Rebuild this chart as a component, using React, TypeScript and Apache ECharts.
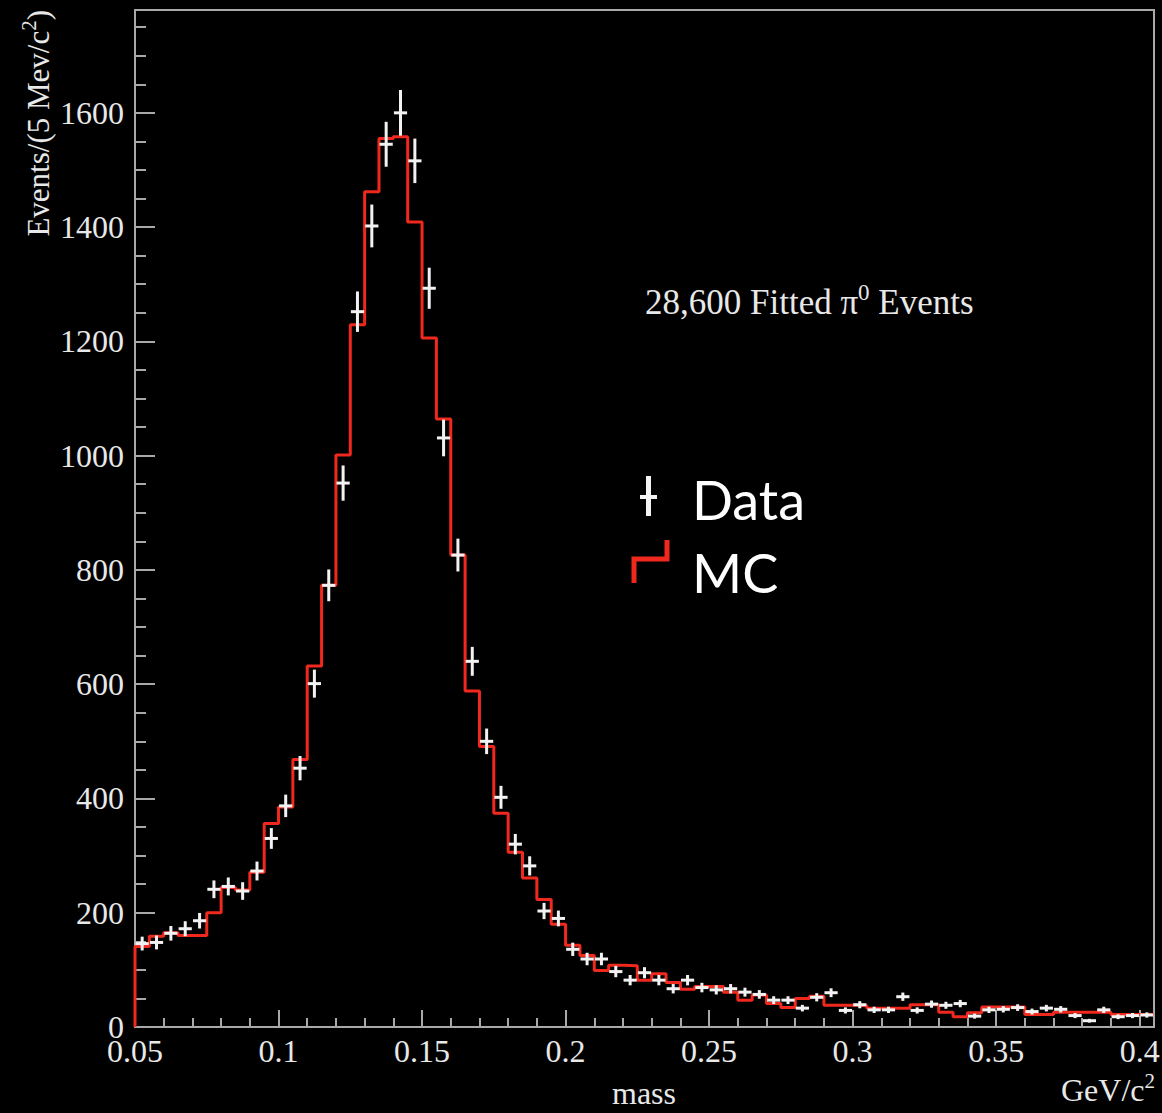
import React, { useEffect, useRef } from "react";
import * as echarts from "echarts";

// Histogram binning (GeV/c^2)
const binStart = 0.05;
const binWidth = 0.005;

// Data: events per 5 MeV/c^2 bin
const dataCounts = [
  146, 148, 164, 172, 186, 241, 246, 238, 273, 330,
  387, 453, 601, 773, 952, 1252, 1402, 1545, 1600, 1516,
  1293, 1031, 826, 640, 500, 402, 320, 282, 203, 190,
  136, 119, 119, 97, 82, 95, 82, 67, 82, 69,
  65, 67, 61, 57, 47, 47, 33, 52, 60, 29,
  39, 30, 30, 53, 29, 40, 38, 41, 19, 30,
  31, 34, 27, 33, 31, 20, 11, 30, 18, 20,
  21,
];

// MC histogram
const mcCounts = [
  141, 159, 165, 160, 160, 200, 244, 240, 271, 356,
  385, 468, 632, 773, 1001, 1229, 1462, 1555, 1558, 1409,
  1206, 1064, 826, 588, 491, 374, 306, 261, 223, 180,
  143, 125, 99, 108, 107, 82, 93, 78, 66, 71,
  71, 61, 47, 56, 41, 34, 50, 54, 38, 38,
  37, 33, 33, 33, 39, 39, 26, 18, 25, 35,
  35, 35, 22, 22, 26, 26, 26, 26, 22, 22,
  22,
];

const xMin = 0.05;
const xMax = 0.405;
const xInterval = 0.05;
const yMin = 0;
const yMax = 1780;
const yInterval = 200;

export default function App() {
  const ref = useRef<HTMLDivElement>(null);

  useEffect(() => {
    if (!ref.current) return;
    const chart = echarts.init(ref.current, null, { renderer: "svg" });
    const serif = '"Liberation Serif", "Times New Roman", serif';
    const sans = 'Lato, "Noto Sans", sans-serif';
    const axisColor = "#a8a8a8";
    const textColor = "#e8e8e8";

    const crossData = dataCounts.map((v, i) => [
      binStart + (i + 0.5) * binWidth,
      v,
      Math.sqrt(v),
    ]);
    const stepData: number[][] = [[binStart, 0]];
    mcCounts.forEach((v, i) => stepData.push([binStart + i * binWidth, v]));
    stepData.push([binStart + mcCounts.length * binWidth, mcCounts[mcCounts.length - 1]]);

    const fmt = (v: number) => String(+Number(v).toFixed(3));

    chart.setOption({
      animation: false,
      backgroundColor: "#000",
      grid: {
        left: 135,
        right: 8,
        top: 10,
        bottom: 86,
        show: true,
        borderColor: axisColor,
        borderWidth: 2,
        containLabel: false,
        outerBoundsMode: "none",
      },
      xAxis: {
        type: "value",
        min: xMin,
        max: xMax,
        interval: xInterval,
        axisLine: { show: true, lineStyle: { color: axisColor, width: 2 } },
        axisTick: { show: true, inside: true, length: 17, lineStyle: { color: axisColor, width: 2 } },
        minorTick: { show: true, splitNumber: 5, length: 9, lineStyle: { color: axisColor, width: 2 } },
        splitLine: { show: false },
        minorSplitLine: { show: false },
        axisLabel: {
          color: textColor,
          fontFamily: serif,
          fontSize: 32,
          lineHeight: 24,
          margin: 12,
          showMaxLabel: false,
          formatter: (v: number) => fmt(v),
        },
      },
      yAxis: {
        type: "value",
        min: yMin,
        max: yMax,
        interval: yInterval,
        axisLine: { show: true, lineStyle: { color: axisColor, width: 2 } },
        axisTick: { show: true, inside: true, length: 20, lineStyle: { color: axisColor, width: 2 } },
        minorTick: { show: true, splitNumber: 4, length: 11, lineStyle: { color: axisColor, width: 2 } },
        splitLine: { show: false },
        minorSplitLine: { show: false },
        axisLabel: {
          color: textColor,
          fontFamily: serif,
          fontSize: 32,
          lineHeight: 22,
          margin: 11,
          showMaxLabel: false,
          formatter: (v: number) => String(Math.round(v)),
        },
      },
      series: [
        {
          name: "MC",
          type: "line",
          step: "end",
          data: stepData,
          symbol: "none",
          showSymbol: false,
          lineStyle: { color: "#f0281e", width: 3 },
          z: 3,
          clip: true,
        },
        {
          name: "Data",
          type: "custom",
          data: crossData,
          encode: { x: 0, y: 1 },
          z: 4,
          renderItem: (params: any, api: any) => {
            const x = api.value(0);
            const y = api.value(1);
            const e = api.value(2);
            const half = binWidth * 0.46;
            const pL = api.coord([x - half, y]);
            const pR = api.coord([x + half, y]);
            const pT = api.coord([x, y + e]);
            const pB = api.coord([x, Math.max(0, y - e)]);
            const style = { stroke: "#f2f2f2", lineWidth: 3 };
            return {
              type: "group",
              children: [
                { type: "line", shape: { x1: pL[0], y1: pL[1], x2: pR[0], y2: pR[1] }, style },
                { type: "line", shape: { x1: pT[0], y1: pT[1], x2: pB[0], y2: pB[1] }, style },
              ],
            };
          },
        },
      ],
      graphic: [
        {
          type: "text",
          x: 38,
          y: 10,
          rotation: Math.PI / 2,
          style: {
            text: "{a|Events/(5 Mev/c}{s|2}{a|)}",
            align: "right",
            verticalAlign: "middle",
            rich: {
              a: { fontFamily: serif, fontSize: 31, fill: textColor, lineHeight: 40 },
              s: { fontFamily: serif, fontSize: 21, fill: textColor, lineHeight: 21, verticalAlign: "top" },
            },
          },
        },
        {
          type: "text",
          x: 644,
          y: 1093,
          style: {
            text: "mass",
            fontFamily: serif,
            fontSize: 32,
            fill: textColor,
            align: "center",
            verticalAlign: "middle",
          },
        },
        {
          type: "text",
          x: 1155,
          y: 1090,
          style: {
            text: "{a|GeV/c}{s|2}",
            align: "right",
            verticalAlign: "middle",
            rich: {
              a: { fontFamily: serif, fontSize: 32, fill: textColor, lineHeight: 40 },
              s: { fontFamily: serif, fontSize: 21, fill: textColor, lineHeight: 21, verticalAlign: "top" },
            },
          },
        },
        {
          type: "text",
          x: 645,
          y: 302,
          style: {
            text: "{a|28,600 Fitted π}{s|0}{a| Events}",
            align: "left",
            verticalAlign: "middle",
            rich: {
              a: { fontFamily: serif, fontSize: 35, fill: textColor, lineHeight: 42 },
              s: { fontFamily: serif, fontSize: 23, fill: textColor, lineHeight: 22, verticalAlign: "top" },
            },
          },
        },
        // Legend: Data marker
        { type: "rect", shape: { x: 646, y: 476, width: 5, height: 40 }, style: { fill: "#f4f4f4" } },
        { type: "rect", shape: { x: 640, y: 495, width: 17, height: 4 }, style: { fill: "#f4f4f4" } },
        {
          type: "text",
          x: 692,
          y: 499,
          style: { text: "Data", fontFamily: sans, fontSize: 54, fill: "#ffffff", align: "left", verticalAlign: "middle" },
        },
        // Legend: MC marker
        {
          type: "polyline",
          shape: { points: [[634, 583], [634, 559], [667, 559], [667, 540]] },
          style: { stroke: "#f0281e", lineWidth: 5, fill: null },
        },
        {
          type: "text",
          x: 692,
          y: 572,
          style: { text: "MC", fontFamily: sans, fontSize: 54, fill: "#ffffff", align: "left", verticalAlign: "middle" },
        },
      ],
    });

    return () => {
      chart.dispose();
    };
  }, []);

  return (
    <div
      ref={ref}
      style={{ position: "absolute", left: 0, top: 0, width: 1162, height: 1113, background: "#000" }}
    />
  );
}
